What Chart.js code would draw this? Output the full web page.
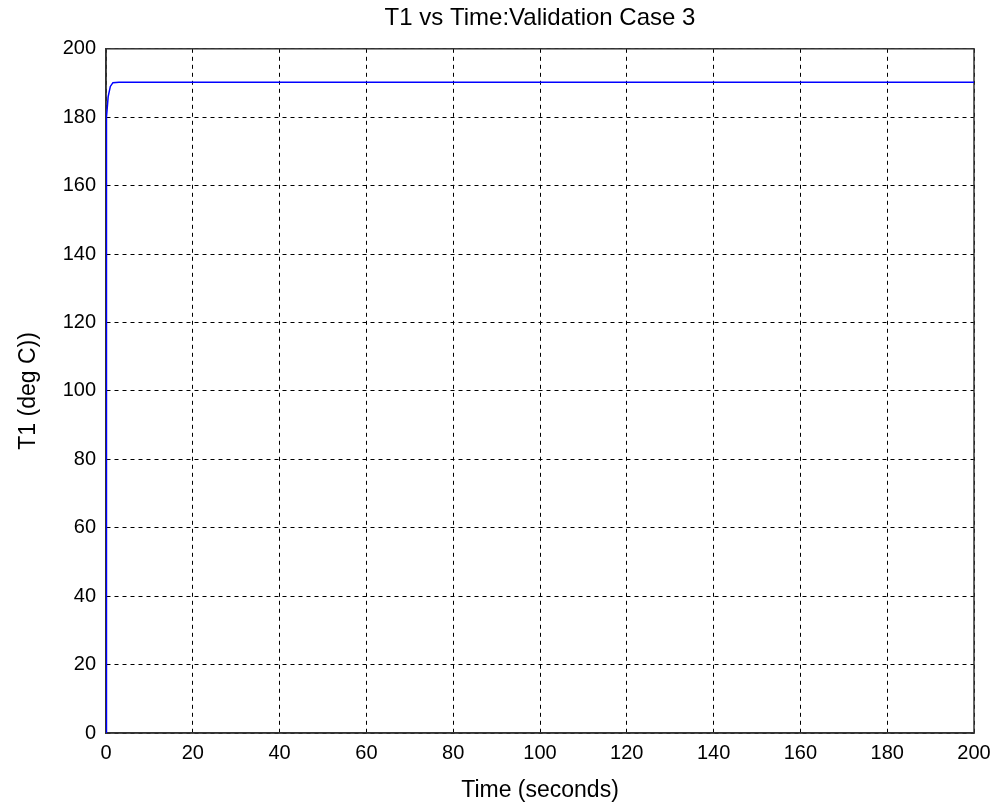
<!DOCTYPE html>
<html>
<head>
<meta charset="utf-8">
<title>T1 vs Time</title>
<script src="https://cdn.jsdelivr.net/npm/chart.js@4/dist/chart.umd.min.js"></script>
<style>
    body { margin: 0; background: #fff; }
    #chart-container { width: 1000px; height: 807px; }
</style>
</head>
<body>
<div id="chart-container"><canvas id="t1-chart" width="1000" height="807"></canvas></div>
<script>
// Data
const timeValues = [0, 0.02, 0.2, 0.5, 1.0, 1.6, 3, 200];
const t1Values = [0, 145, 180, 186, 189, 190.1, 190.2, 190.2];
const xTicks = [0, 20, 40, 60, 80, 100, 120, 140, 160, 180, 200];
const yTicks = [0, 20, 40, 60, 80, 100, 120, 140, 160, 180, 200];

const points = timeValues.map((t, i) => ({ x: t, y: t1Values[i] }));

const fontFamily = "Arial, 'Liberation Sans', sans-serif";
const tickFont = { family: fontFamily, size: 20 };
const labelFont = { family: fontFamily, size: 23 };
const gridStyle = {
    color: "#000",
    lineWidth: 1,
    drawTicks: false,
};
const borderStyle = { display: true, color: "#333", width: 1.5, dash: [4, 4] };

const ctx = document.getElementById("t1-chart").getContext("2d");

new Chart(ctx, {
    type: "line",
    data: {
        datasets: [{
            label: "T1",
            data: points,
            borderColor: "#0000ff",
            borderWidth: 1.5,
            pointRadius: 0,
            fill: false,
            tension: 0,
        }],
    },
    options: {
        responsive: false,
        animation: false,
        layout: { padding: { left: 0, right: 26, top: 0, bottom: 0 } },
        plugins: {
            legend: { display: false },
            tooltip: { enabled: false },
            title: {
                display: true,
                fullSize: false,
                text: "T1 vs Time:Validation Case 3",
                color: "#000",
                font: { family: fontFamily, size: 24, weight: "normal" },
                padding: { top: 4, bottom: 16 },
            },
        },
        scales: {
            x: {
                type: "linear",
                min: 0,
                max: 200,
                afterBuildTicks: (scale) => { scale.ticks = xTicks.map((v) => ({ value: v })); },
                afterFit: (scale) => { scale.height = 74; },
                ticks: { color: "#000", font: tickFont, padding: 8, maxRotation: 0 },
                grid: gridStyle,
                border: borderStyle,
                title: {
                    display: true,
                    text: "Time (seconds)",
                    color: "#000",
                    font: labelFont,
                    padding: { top: 0, bottom: 3 },
                },
            },
            y: {
                min: 0,
                max: 200,
                afterBuildTicks: (scale) => { scale.ticks = yTicks.map((v) => ({ value: v })); },
                afterFit: (scale) => { scale.width = 106; },
                ticks: { color: "#000", font: tickFont, padding: 10 },
                grid: gridStyle,
                border: borderStyle,
                title: {
                    display: true,
                    text: "T1 (deg C))",
                    color: "#000",
                    font: labelFont,
                    padding: { top: 15, bottom: 0 },
                },
            },
        },
    },
    plugins: [{
        // solid box around the plot area, like the axes box
        id: "boxFrame",
        beforeDatasetsDraw(chart) {
            const { ctx, chartArea } = chart;
            ctx.save();
            ctx.strokeStyle = "#333";
            ctx.lineWidth = 1.5;
            ctx.setLineDash([]);
            ctx.strokeRect(chartArea.left, chartArea.top, chartArea.right - chartArea.left, chartArea.bottom - chartArea.top);
            ctx.restore();
        },
    }],
});
</script>
</body>
</html>
